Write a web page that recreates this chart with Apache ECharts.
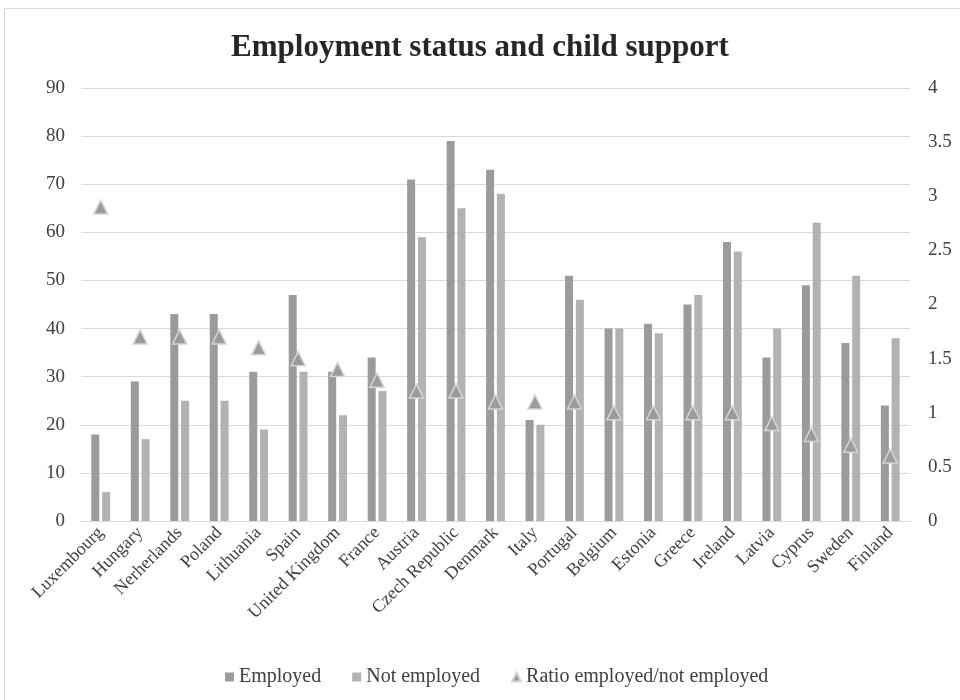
<!DOCTYPE html>
<html><head><meta charset="utf-8">
<script src="https://cdn.jsdelivr.net/npm/echarts@6/dist/echarts.min.js"></script>
<style>html,body{margin:0;padding:0;background:#fff}#c{width:960px;height:700px}</style>
</head><body><div id="c"></div>
<script>
const categories = ["Luxembourg","Hungary","Nerherlands","Poland","Lithuania","Spain","United Kingdom","France","Austria","Czech Republic","Denmark","Italy","Portugal","Belgium","Estonia","Greece","Ireland","Latvia","Cyprus","Sweden","Finland"];
const employed = [18,29,43,43,31,47,31,34,71,79,73,21,51,40,41,45,58,34,49,37,24];
const notEmployed = [6,17,25,25,19,31,22,27,59,65,68,20,46,40,39,47,56,40,62,51,38];
const ratio = [2.9,1.7,1.7,1.7,1.6,1.5,1.4,1.3,1.2,1.2,1.1,1.1,1.1,1.0,1.0,1.0,1.0,0.9,0.8,0.7,0.6];
const leftTicks = {min:0,max:90,interval:10};
const rightTicks = {min:0,max:4,interval:0.5};

const font = "'Liberation Serif','Times New Roman',serif";
const chart = echarts.init(document.getElementById('c'), null, {renderer:'canvas'});
chart.setOption({
  animation:false,
  textStyle:{fontFamily:font},
  graphic:[{type:'rect',shape:{x:4.5,y:8.5,width:960,height:700},style:{fill:'none',stroke:'#d9d9d9',lineWidth:1},silent:true}],
  title:{text:'Employment status and child support',left:'center',top:27,textStyle:{fontFamily:font,fontSize:31,fontWeight:'bold',color:'#262626'}},
  legend:{bottom:8,left:220,itemWidth:9,itemHeight:9,itemGap:31,
    textStyle:{fontFamily:font,fontSize:20,color:'#404040'},
    data:[{name:'Employed',icon:'rect'},{name:'Not employed',icon:'rect'},{name:'Ratio employed/not employed',icon:'triangle'}]},
  grid:{left:81,right:50,top:88,bottom:179,containLabel:false},
  xAxis:{type:'category',data:categories,axisTick:{show:false},
    axisLine:{lineStyle:{color:'#d9d9d9'}},
    axisLabel:{rotate:45,interval:0,fontFamily:font,fontSize:18,color:'#404040',margin:9}},
  yAxis:[
    {type:'value',min:leftTicks.min,max:leftTicks.max,interval:leftTicks.interval,
     axisLine:{show:false},axisTick:{show:false},
     splitLine:{lineStyle:{color:'#d9d9d9',width:1}},
     axisLabel:{fontFamily:font,fontSize:19,color:'#404040',margin:16}},
    {type:'value',min:rightTicks.min,max:rightTicks.max,interval:rightTicks.interval,
     axisLine:{show:false},axisTick:{show:false},splitLine:{show:false},
     axisLabel:{fontFamily:font,fontSize:19,color:'#404040',margin:18}}
  ],
  series:[
    {name:'Employed',type:'bar',data:employed,barWidth:8,barGap:'35%',itemStyle:{color:'#9a9b9d'}},
    {name:'Not employed',type:'bar',data:notEmployed,barWidth:8,barGap:'35%',itemStyle:{color:'#b1b2b4'}},
    {name:'Ratio employed/not employed',type:'line',yAxisIndex:1,data:ratio,
     lineStyle:{width:0,opacity:0},symbol:'triangle',symbolSize:14,
     itemStyle:{color:'#9a9b9d',borderColor:'#d4d5d6',borderWidth:1.5},z:5}
  ]
});
</script></body></html>
